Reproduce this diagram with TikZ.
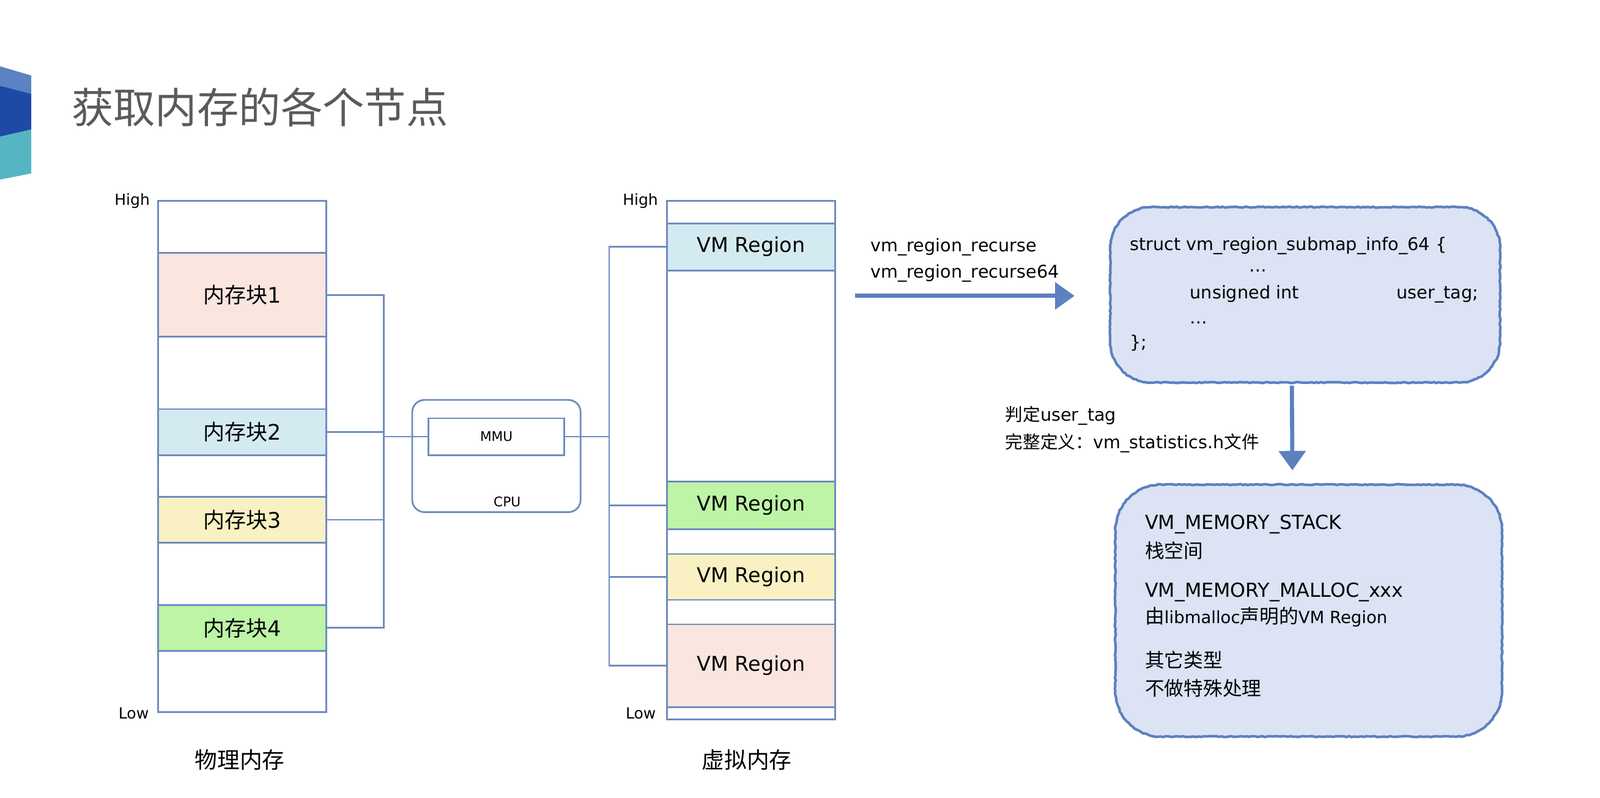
\documentclass[tikz,border=0pt]{standalone}
\usepackage{fontspec}
\setmainfont{DejaVu Sans}
\newfontfamily\cjk{Noto Sans CJK SC}
\usetikzlibrary{arrows.meta,decorations.pathmorphing,calc}
\definecolor{lc}{HTML}{6F8CBF}
\definecolor{arc}{HTML}{5D80BF}
\definecolor{boxf}{HTML}{DBE3F4}
\definecolor{pinkc}{HTML}{FAE6DF}
\definecolor{bluec}{HTML}{D4EAF1}
\definecolor{yelc}{HTML}{F9F1C3}
\definecolor{grnc}{HTML}{BDF4A6}
\definecolor{decA}{HTML}{5B82C3}
\definecolor{decB}{HTML}{1E4AA5}
\definecolor{decC}{HTML}{55B5C2}
\definecolor{titc}{HTML}{5A5A5A}
\tikzset{
 ln/.style={draw=lc, line width=1.7pt},
 colbox/.style={draw=lc, line width=1.7pt, fill=white, minimum width=165pt, inner sep=0pt, outer sep=0pt},
 blk/.style={colbox, font=\fontsize{21}{25}\selectfont},
 vmr/.style={colbox, font=\fontsize{20}{24}\selectfont},
 hl/.style={inner sep=0pt, anchor=east, font=\fontsize{15}{18}\selectfont},
 smallt/.style={inner sep=0pt, font=\fontsize{13}{16}\selectfont},
 t18/.style={inner sep=0pt, anchor=west, text height=13pt, text depth=4pt, font=\fontsize{17.2}{21}\selectfont},
 t19/.style={inner sep=0pt, anchor=west, text height=14pt, text depth=4pt, font=\fontsize{19}{23}\selectfont},
 hand/.style={decorate, decoration={random steps, segment length=2.5pt, amplitude=0.5pt}},
 cloudfill/.style={fill=boxf, inner sep=0pt, outer sep=0pt},
 fatarrow/.style={draw=arc, line width=4pt, -{Triangle[length=19pt,width=26pt]}},
}
\newcommand\handbox[2]{%
 \draw[hand, draw=arc, line width=2.5pt]
  ($(#1.north west)+(#2,0)$) -- ($(#1.north east)+(-#2,0)$)
  arc[start angle=90, end angle=0, radius=#2pt]
  -- ($(#1.south east)+(0,-#2)$)
  arc[start angle=0, end angle=-90, radius=#2pt]
  -- ($(#1.south west)+(#2,0)$)
  arc[start angle=-90, end angle=-180, radius=#2pt]
  -- ($(#1.north west)+(0,#2)$)
  arc[start angle=180, end angle=90, radius=#2pt] -- cycle;}
\begin{document}
\begin{tikzpicture}[x=1pt,y=-1pt]
\useasboundingbox (0,0) rectangle (1568,782);
\fill[white] (0,0) rectangle (1568,782);
% decoration
\fill[decA] (0,65) -- (30.6,74) -- (30.6,92) -- (0,84) -- cycle;
\fill[decB] (0,84) -- (30.6,92) -- (30.6,127) -- (0,134) -- cycle;
\fill[decC] (0,134) -- (30.6,127) -- (30.6,170) -- (0,176) -- cycle;
% title
\node[inner sep=0pt, anchor=west, text=titc, font=\cjk\fontsize{41}{49}\selectfont] (title) at (70,105) {获取内存的各个节点};
% physical memory column
\node[colbox, minimum height=501pt] (phys) at (237.5,447.5) {};
\node[blk, fill=pinkc, minimum height=82pt] (b1) at (237.5,289) {{\cjk 内存块}1};
\node[blk, fill=bluec, minimum height=45pt] (b2) at (237.5,423.5) {{\cjk 内存块}2};
\node[blk, fill=yelc, minimum height=45pt] (b3) at (237.5,509.5) {{\cjk 内存块}3};
\node[blk, fill=grnc, minimum height=45pt] (b4) at (237.5,615.5) {{\cjk 内存块}4};
\node[hl] (ph) at (147,197) {High};
\node[hl] (pl) at (146,699) {Low};
\node[inner sep=0pt, font=\cjk\fontsize{22}{26}\selectfont] (plab) at (235,745) {物理内存};
% CPU / MMU
\node[draw=lc, line width=1.7pt, rounded corners=12pt, minimum width=165pt, minimum height=110pt, inner sep=0pt] (cpu) at (486.5,447) {};
\node[draw=lc, line width=1.7pt, fill=white, minimum width=133pt, minimum height=36pt, inner sep=0pt, smallt] (mmu) at (486.5,428) {MMU};
\node[smallt] (cpul) at (497,492) {CPU};
% virtual memory column
\node[colbox, minimum height=508pt] (virt) at (736,451) {};
\node[vmr, fill=bluec, minimum height=46pt] (v1) at (736,242) {VM Region};
\node[vmr, fill=grnc, minimum height=47pt] (v2) at (736,495.5) {VM Region};
\node[vmr, fill=yelc, minimum height=45pt] (v3) at (736,565.5) {VM Region};
\node[vmr, fill=pinkc, minimum height=81pt] (v4) at (736,652.5) {VM Region};
\node[hl] (vh) at (645,197) {High};
\node[hl] (vlo) at (643,699) {Low};
\node[inner sep=0pt, font=\cjk\fontsize{22}{26}\selectfont] (vlab) at (732,745) {虚拟内存};
% buses
\coordinate (lbb) at (376,615.5);
\draw[ln] (b1.east) -| (lbb) -- (b4.east);
\draw[ln] (b2.east) -- (b2.east -| lbb);
\draw[ln] (b3.east) -- (b3.east -| lbb);
\draw[ln] (mmu.west) -- (mmu.west -| lbb);
\coordinate (rbb) at (597,652.5);
\draw[ln] (v1.west) -| (rbb) -- (v4.west);
\draw[ln] (v2.west) -- (v2.west -| rbb);
\draw[ln] (v3.west) -- (v3.west -| rbb);
\draw[ln] (mmu.east) -- (mmu.east -| rbb);
% box 1
\node[cloudfill, rounded corners=40pt, minimum width=382pt, minimum height=172pt] (box1) at (1279,289) {};
\handbox{box1}{40}
\node[t18] (s1) at (1107,241) {struct vm\_region\_submap\_info\_64 \{};
\node[t18] (s2) at (1224,262) {…};
\node[t18] (s3) at (1166,288) {unsigned int};
\node[t18, anchor=east] (s4) at (1449,288) {user\_tag;};
\node[t18] (s5) at (1166,313) {…};
\node[t18] (s6) at (1107,337) {\};};
% arrow 1
\coordinate (a1s) at (838,290);
\draw[fatarrow] (a1s) -- ($(box1.west)+(-35,1)$);
\node[t18] (r1) at (853,242) {vm\_region\_recurse};
\node[t18] (r2) at (853,268) {vm\_region\_recurse64};
% box 2
\node[cloudfill, rounded corners=45pt, minimum width=379pt, minimum height=247pt] (box2) at (1282.5,598.5) {};
\handbox{box2}{45}
\node[t19] (m1) at (1122,514) {VM\_MEMORY\_STACK};
\node[t19] (m2) at (1122,542) {\cjk 栈空间};
\node[t19] (m3) at (1122,580) {VM\_MEMORY\_MALLOC\_xxx};
\node[t19] (m4) at (1122,606) {{\cjk 由}{\fontsize{16.5}{20}\selectfont libmalloc}{\cjk 声明的}{\fontsize{16.5}{20}\selectfont VM Region}};
\node[t19] (m5) at (1122,649) {\cjk 其它类型};
\node[t19] (m6) at (1122,677) {\cjk 不做特殊处理};
% arrow 2
\draw[fatarrow] ($(box1.south)+(-13,3)$) -- ($(box2.north)+(-16,-14)$);
\node[t18] (j1) at (985,408) {{\cjk 判定}user\_tag};
\node[t18] (j2) at (985,435) {{\cjk 完整定义：}vm\_statistics.h{\cjk 文件}};
\end{tikzpicture}
\end{document}
